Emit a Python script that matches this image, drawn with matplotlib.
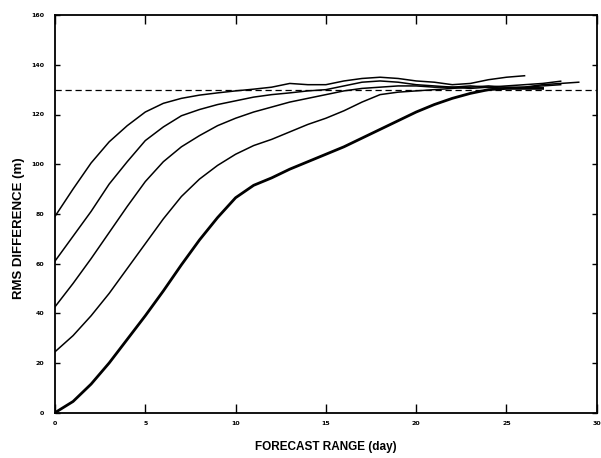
import numpy as np
import matplotlib
matplotlib.use('Agg')
import matplotlib.pyplot as plt

# forecast range (day) and RMS difference (m) of each curve
days_a = list(range(0, 27))
rms_a = [79, 90, 100.5, 109, 115.5, 121, 124.5, 126.5, 127.8, 128.7,
         129.5, 130.2, 131, 132.5, 132, 132, 133.5, 134.5, 135, 134.5,
         133.5, 133, 132, 132.5, 134, 135, 135.6]

days_b = list(range(0, 29))
rms_b = [61, 71, 81, 92, 101, 109.5, 115, 119.5, 122, 124, 125.5,
         127, 128, 128.7, 129.5, 130, 131.5, 133, 133.5, 133, 132,
         131.5, 131, 130.5, 131, 131.5, 132, 132.5, 133.4]

days_c = list(range(0, 30))
rms_c = [42.6, 52, 62, 72.5, 83, 93, 101, 107, 111.5, 115.5, 118.5,
         121, 123, 125, 126.5, 128, 129.5, 130.5, 131, 131.5, 131.5,
         131, 131, 131.5, 131, 130.5, 131, 132, 132.5, 133]

days_d = list(range(0, 29))
rms_d = [24.5, 31, 39, 48, 58, 68, 78, 87, 94, 99.5, 104, 107.5,
         110, 113, 116, 118.5, 121.5, 125, 128, 129, 129.5, 130, 130.5,
         131, 131.5, 131, 131, 131.5, 132]

days_e = list(range(0, 28))
rms_e = [0, 4.5, 11.5, 20, 29.5, 39, 49, 59.5, 69.5, 78.5, 86.5, 91.5,
         94.5, 98, 101, 104, 107, 110.5, 114, 117.5, 121, 124, 126.5,
         128.5, 130, 130.5, 130.5, 130.5]

saturation = 130

fig = plt.figure(figsize=(6.01, 4.58), dpi=100)
ax = fig.add_axes([0.0915, 0.099, 0.9015, 0.868])

for d, r in [(days_a, rms_a), (days_b, rms_b), (days_c, rms_c), (days_d, rms_d)]:
    ax.plot(d, r, color='k', linewidth=1.1)
ax.plot(days_e, rms_e, color='k', linewidth=2.0)
ax.axhline(saturation, color='k', linewidth=0.9, linestyle=(0, (5, 3)))

ax.set_xlim(0, 30)
ax.set_ylim(0, 160)
ax.set_xticks(range(0, 31, 5))
ax.set_yticks(range(0, 161, 20))
ax.tick_params(axis='both', direction='in', top=True, right=True,
               labelsize=4.5, width=1.0)
ax.tick_params(axis='x', length=6.5, pad=6)
ax.tick_params(axis='y', length=3.6, pad=8)
for lab in ax.get_xticklabels() + ax.get_yticklabels():
    lab.set_fontweight('bold')
for sp in ax.spines.values():
    sp.set_linewidth(1.3)

ax.set_xlabel('FORECAST RANGE (day)', fontsize=8.5, fontweight='bold',
              family='Liberation Sans', labelpad=11)
ax.set_ylabel('RMS DIFFERENCE (m)', fontsize=9.5, fontweight='bold',
              family='Liberation Sans')
ax.yaxis.set_label_coords(-0.056, 0.465)

fig.savefig('out.png', dpi=100)
